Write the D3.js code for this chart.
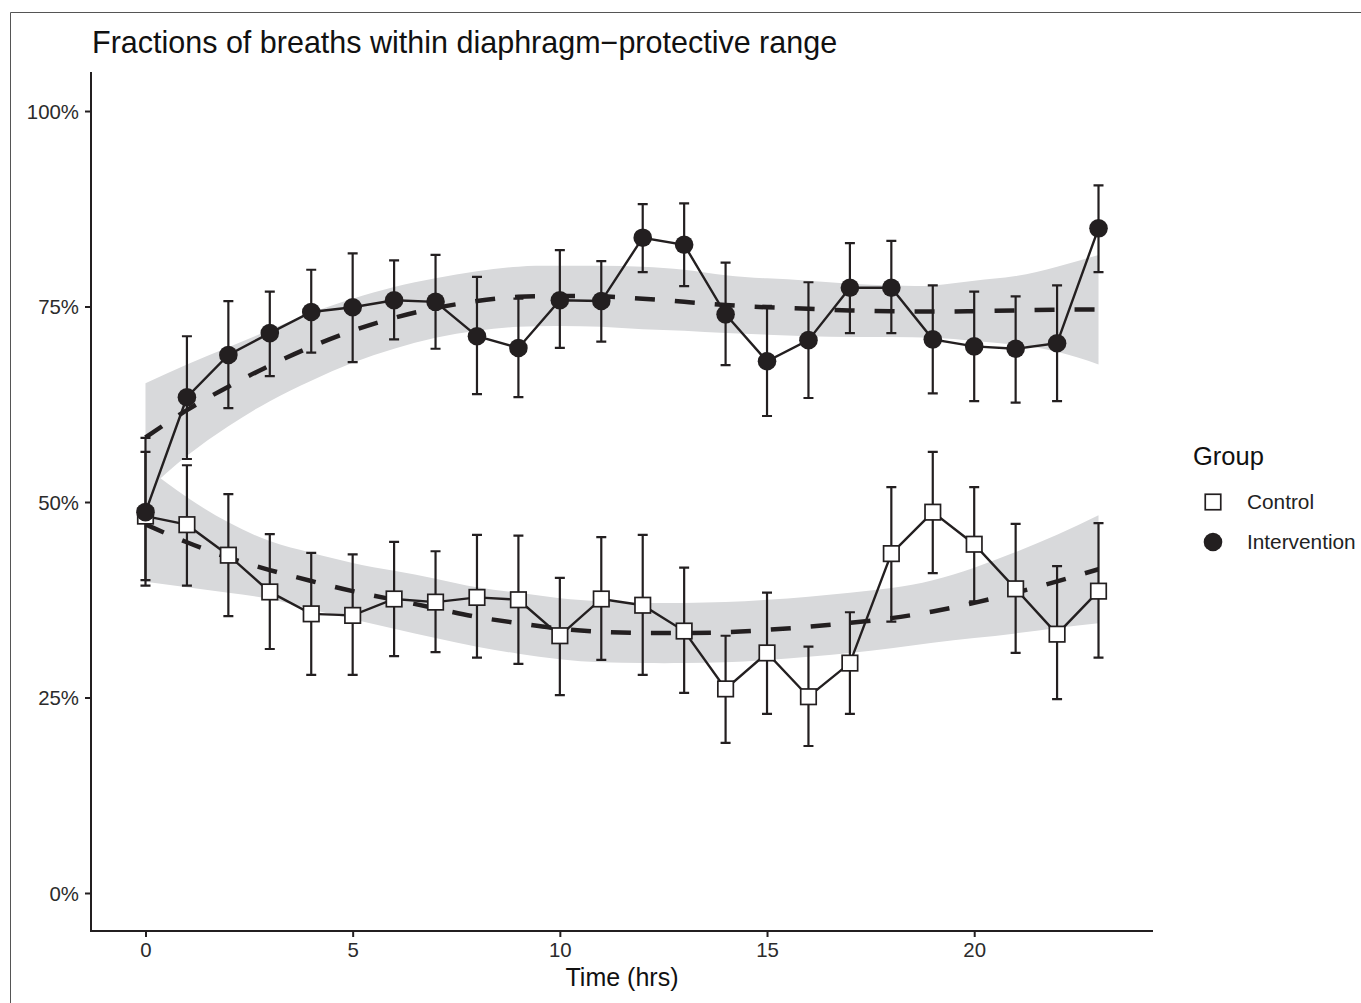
<!DOCTYPE html>
<html>
<head>
<meta charset="utf-8">
<script src="https://cdn.jsdelivr.net/npm/d3@7/dist/d3.min.js"></script>
<style>
  html, body { margin: 0; padding: 0; background: #fff; }
  svg text { font-family: "Liberation Sans", Arial, Helvetica, sans-serif; }
</style>
</head>
<body>
<svg id="chart" width="1361" height="1003"></svg>
<script>
// ---- Data (percent) ----
const hours = [0,1,2,3,4,5,6,7,8,9,10,11,12,13,14,15,16,17,18,19,20,21,22,23];

const intMean = [48.7,63.4,68.8,71.6,74.3,74.9,75.8,75.6,71.2,69.7,75.8,75.7,83.8,82.9,74.0,68.0,70.7,77.4,77.4,70.8,69.9,69.6,70.3,85.0];
const intHi   = [58.2,71.2,75.7,76.9,79.7,81.8,80.9,81.6,78.8,76.0,82.2,80.8,88.1,88.2,80.6,75.1,78.1,83.1,83.4,77.7,76.9,76.3,77.7,90.5];
const intLo   = [39.3,55.5,62.0,66.1,69.1,67.9,70.8,69.6,63.8,63.4,69.7,70.5,79.4,77.6,67.5,61.0,63.3,71.6,71.6,63.9,62.9,62.7,62.9,79.4];

const ctlMean = [48.2,47.1,43.2,38.5,35.7,35.5,37.6,37.2,37.8,37.5,32.9,37.6,36.8,33.5,26.1,30.7,25.1,29.4,43.4,48.7,44.6,38.9,33.1,38.6];
const ctlHi   = [56.4,54.7,51.0,45.9,43.5,43.3,44.9,43.7,45.8,45.7,40.3,45.5,45.8,41.6,32.9,38.4,31.5,35.9,51.9,56.4,51.9,47.2,41.8,47.3];
const ctlLo   = [40.0,39.3,35.4,31.2,27.9,27.9,30.3,30.8,30.1,29.3,25.3,29.8,27.9,25.6,19.2,22.9,18.8,22.9,34.7,40.9,37.3,30.7,24.8,30.1];

// smoothed fits and confidence bands
const intFit   = [58.25,61.75,64.75,67.45,69.85,71.9,73.55,74.8,75.7,76.25,76.35,76.3,76.0,75.6,75.2,74.9,74.7,74.5,74.4,74.35,74.4,74.5,74.6,74.6];
const intFitHi = [65.2,67.6,69.8,72.0,74.2,76.0,77.5,78.6,79.5,80.1,80.2,80.2,80.1,79.7,79.0,78.6,78.3,77.9,77.7,77.7,78.3,78.9,80.1,81.6];
const intFitLo = [51.3,55.9,59.7,62.9,65.5,67.8,69.6,71.0,71.9,72.4,72.5,72.4,72.1,71.9,71.6,71.4,71.2,71.1,71.1,71.0,70.6,70.1,69.2,67.6];

const ctlFit   = [47.15,44.85,42.9,41.3,39.9,38.6,37.5,36.4,35.3,34.5,33.8,33.4,33.25,33.25,33.35,33.65,34.05,34.55,35.15,36.0,37.1,38.4,39.85,41.4];
const ctlFitHi = [54.5,50.6,47.4,45.0,43.5,42.2,41.2,40.2,39.1,38.4,37.7,37.3,37.1,37.1,37.2,37.5,37.9,38.4,39.0,40.0,41.6,43.6,45.8,48.3];
const ctlFitLo = [39.8,39.1,38.4,37.6,36.3,35.0,33.8,32.6,31.5,30.6,29.9,29.5,29.4,29.4,29.5,29.8,30.2,30.7,31.3,32.0,32.6,33.2,33.9,34.5];

const yTicks = [0,25,50,75,100];
const yTickLabels = ["0%","25%","50%","75%","100%"];
const xTicks = [0,5,10,15,20];
const groups = ["Control","Intervention"];
const titleText = "Fractions of breaths within diaphragm\u2212protective range";
const xTitle = "Time (hrs)";
const legendTitle = "Group";

// ---- Layout ----
const svg = d3.select("#chart");
const ink = "#231f20";
const band = "#d8d9db";

// page frame (thin border)
svg.append("path").attr("d","M10.5,1003 L10.5,12.5 L1361,12.5")
  .attr("fill","none").attr("stroke","#555").attr("stroke-width",1);

const x = d3.scaleLinear().domain([-1.315, 24.315]).range([91, 1153]);
const y = d3.scaleLinear().domain([-4.86, 104.99]).range([931, 72]);

const rows = hours.map((h,i)=>({h, im:intMean[i], ih:intHi[i], il:intLo[i], cm:ctlMean[i], ch:ctlHi[i], cl:ctlLo[i],
  ifit:intFit[i], ifh:intFitHi[i], ifl:intFitLo[i], cfit:ctlFit[i], cfh:ctlFitHi[i], cfl:ctlFitLo[i]}));

const curve = d3.curveNatural;
const area = (hi, lo) => d3.area().x(d=>x(d.h)).y0(d=>y(d[lo])).y1(d=>y(d[hi])).curve(curve);
const line = (k, c) => d3.line().x(d=>x(d.h)).y(d=>y(d[k])).curve(c || d3.curveLinear);

const g = svg.append("g");
// ribbons
g.append("path").datum(rows).attr("d", area("ifh","ifl")).attr("fill", band);
g.append("path").datum(rows).attr("d", area("cfh","cfl")).attr("fill", band);
// smooth dashed lines
["ifit","cfit"].forEach(k=>{
  g.append("path").datum(rows).attr("d", line(k, curve))
    .attr("fill","none").attr("stroke", ink).attr("stroke-width",4.5)
    .attr("stroke-dasharray","20,20");
});
// error bars
const capW = 5;
[["ih","il"],["ch","cl"]].forEach(([hi,lo])=>{
  const eg = g.append("g").attr("stroke", ink).attr("stroke-width",2.2).attr("fill","none");
  eg.selectAll("path").data(rows).join("path")
    .attr("d", d=>`M${x(d.h)},${y(d[hi])}V${y(d[lo])}M${x(d.h)-capW},${y(d[hi])}H${x(d.h)+capW}M${x(d.h)-capW},${y(d[lo])}H${x(d.h)+capW}`);
});
// connecting lines
["im","cm"].forEach(k=>{
  g.append("path").datum(rows).attr("d", line(k))
    .attr("fill","none").attr("stroke", ink).attr("stroke-width",2.4);
});
// points: control squares
const sq = 15.5;
g.append("g").selectAll("rect").data(rows).join("rect")
  .attr("x", d=>x(d.h)-sq/2).attr("y", d=>y(d.cm)-sq/2)
  .attr("width", sq).attr("height", sq)
  .attr("fill","#fff").attr("stroke", ink).attr("stroke-width",1.7);
// intervention circles
g.append("g").selectAll("circle").data(rows).join("circle")
  .attr("cx", d=>x(d.h)).attr("cy", d=>y(d.im)).attr("r", 9.3)
  .attr("fill", ink);

// ---- Axes ----
const yAxis = d3.axisLeft(y).tickValues(yTicks).tickFormat((d,i)=>yTickLabels[i]).tickSize(6).tickSizeOuter(0).tickPadding(6);
const ya = svg.append("g").attr("transform","translate(91,0)").call(yAxis);
const xAxis = d3.axisBottom(x).tickValues(xTicks).tickFormat(d3.format("d")).tickSize(6).tickSizeOuter(0).tickPadding(4);
const xa = svg.append("g").attr("transform","translate(0,931)").call(xAxis);
[ya, xa].forEach(a=>{
  a.select(".domain").attr("stroke", ink).attr("stroke-width",2);
  a.selectAll(".tick line").attr("stroke", ink).attr("stroke-width",2);
  a.selectAll(".tick text").attr("fill","#2b2b2b").style("font-size","20.4px")
    .style("font-family","'Liberation Sans', Arial, sans-serif");
});
ya.select(".domain").attr("d","M0,72V932");
xa.select(".domain").attr("d","M90,0H1153");
ya.selectAll(".tick text").attr("dy","0.36em");
xa.selectAll(".tick text").attr("dy","0.78em");

// titles
svg.append("text").attr("x",92).attr("y",53).text(titleText)
  .attr("fill","#111").style("font-size","30.5px");
svg.append("text").attr("x",622).attr("y",986).attr("text-anchor","middle").text(xTitle)
  .attr("fill","#111").style("font-size","25px");

// ---- Legend ----
const lg = svg.append("g");
lg.append("text").attr("x",1193).attr("y",465).text(legendTitle).attr("fill","#111").style("font-size","25.5px");
lg.append("rect").attr("x",1213-7.75).attr("y",502-7.75).attr("width",15.5).attr("height",15.5)
  .attr("fill","#fff").attr("stroke",ink).attr("stroke-width",1.7);
lg.append("circle").attr("cx",1213).attr("cy",542).attr("r",9.3).attr("fill",ink);
lg.selectAll("text.lab").data(groups).join("text").attr("class","lab")
  .attr("x",1247).attr("y",(d,i)=>509+i*40).text(d=>d)
  .attr("fill","#222").style("font-size","20.8px");
</script>
</body>
</html>
